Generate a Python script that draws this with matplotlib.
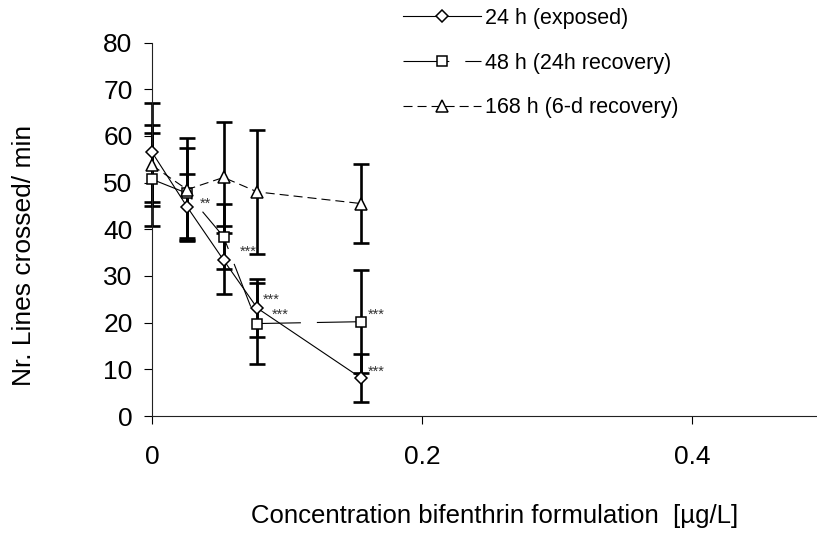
import numpy as np
import matplotlib
matplotlib.use("Agg")
import matplotlib.pyplot as plt

plt.rcParams['font.family'] = ['Liberation Sans', 'DejaVu Sans']
plt.rcParams['lines.scale_dashes'] = False

# concentrations (ug/L)
conc = [0, 0.026, 0.053, 0.078, 0.155]

# lines crossed per minute, mean and error
h24 = [56.5, 44.8, 33.4, 23.1, 8.1]
h24_err = [10.6, 7.0, 7.3, 6.2, 5.1]
h48 = [50.7, 47.7, 38.4, 19.8, 20.2]
h48_err = [10.0, 9.6, 7.0, 8.7, 11.0]
h168 = [53.7, 48.5, 51.1, 48.0, 45.5]
h168_err = [8.7, 11.0, 11.8, 13.3, 8.5]

labels = ['24 h (exposed)', '48 h (24h recovery)', '168 h (6-d recovery)']

# significance marks: (text, series, index)
stars = [('**', '24', 1), ('***', '24', 2), ('***', '24', 3),
         ('***', '48', 3), ('***', '48', 4), ('***', '24', 4)]

W, H = 817, 533
fig = plt.figure(figsize=(W / 100, H / 100), dpi=100)
ax = fig.add_axes([152 / W, 1 - 416 / H, 675 / W, 373.5 / H])

ebkw = dict(fmt='none', ecolor='black', elinewidth=1.9, capsize=6.1,
            capthick=1.9, zorder=2)
for ys, es in [(h24, h24_err), (h48, h48_err), (h168, h168_err)]:
    eb = ax.errorbar(conc, ys, yerr=es, **ebkw)
    for art in eb.lines[1] + eb.lines[2]:
        art.set_clip_on(False)

mkw = dict(color='black', lw=0.8, mfc='white', mec='black', mew=1.1,
           zorder=3, clip_on=False)
l1, = ax.plot(conc, h24, marker='D', ms=6.5, ls='-', **mkw)
l2, = ax.plot(conc, h48, marker='s', ms=7, **mkw)
l2.set_dashes([33, 11.5])
l3, = ax.plot(conc, h168, marker='^', ms=9, **mkw)
l3.set_dashes([6.5, 3.6])

series = {'24': h24, '48': h48}
offsets = [(9.1, 1.9), (11.5, 5.8), (4.3, 6), (10.4, 6), (4.8, 4.8), (4.8, 4.5)]
for (txt, s, i), off in zip(stars, offsets):
    ax.annotate(txt, xy=(conc[i], series[s][i]), xytext=off,
                textcoords='offset points', ha='left', va='center',
                fontsize=10.5, color='#333333', zorder=4)

ax.set_xlim(0, 0.5)
ax.set_ylim(0, 80)
ax.set_xticks([0, 0.2, 0.4])
ax.set_xticklabels(['0', '0.2', '0.4'])
ax.set_yticks(np.arange(0, 81, 10))
ax.tick_params(axis='both', labelsize=19, length=6, width=0.8, direction='out')
ax.tick_params(axis='y', pad=8)
ax.tick_params(axis='x', pad=15)
for s in ['top', 'right']:
    ax.spines[s].set_visible(False)
for s in ['left', 'bottom']:
    ax.spines[s].set_linewidth(0.8)
    ax.spines[s].set_color('#222222')

ax.set_xlabel('Concentration bifenthrin formulation  [\u00b5g/L]', fontsize=18.5)
ax.xaxis.set_label_coords(0.508, -0.235)
ax.set_ylabel('Nr. Lines crossed/ min', fontsize=19)
ax.yaxis.set_label_coords(-0.172, 0.431)

fig.legend([l1, l2, l3], labels, loc='upper left',
           bbox_to_anchor=(403 / W, 1 - 8 / H), frameon=False,
           fontsize=15.5, handlelength=3.6, handletextpad=0.2,
           borderpad=0, borderaxespad=0, labelspacing=1.1, numpoints=1)

fig.savefig('out.png', dpi=100)
